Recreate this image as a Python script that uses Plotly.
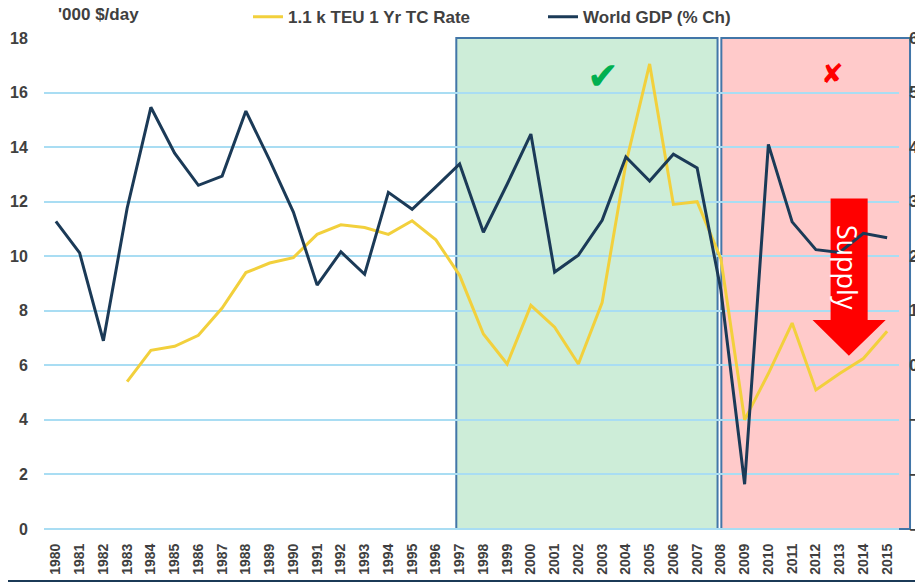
import plotly.graph_objects as go

years = list(range(1980, 2016))

tc_years = list(range(1983, 2016))
tc_rate = [5.4, 6.55, 6.7, 7.1, 8.1, 9.4, 9.75, 9.95, 10.8, 11.15, 11.05, 10.8, 11.3, 10.6,
           9.3, 7.15, 6.05, 8.2, 7.4, 6.05, 8.3, 13.4, 17.05, 11.9, 12.0, 9.9,
           4.0, 5.7, 7.55, 5.1, 5.7, 6.25, 7.25]

gdp = [2.64, 2.06, 0.45, 2.88, 4.73, 3.89, 3.3, 3.47, 4.66, 3.76, 2.81, 1.47, 2.08, 1.67,
       3.17, 2.86, 3.27, 3.69, 2.44, 3.32, 4.24, 1.71, 2.02, 2.66, 3.82, 3.38, 3.87, 3.62,
       1.38, -2.18, 4.05, 2.63, 2.12, 2.07, 2.42, 2.34]

left_ticks = list(range(0, 19, 2))
right_ticks = list(range(-3, 7))

TXT = "#404040"
GRID = "#A9DDF3"
BORDER = "#4276A8"

fig = go.Figure()
fig.add_trace(go.Scatter(x=tc_years, y=tc_rate, mode="lines", name="1.1 k TEU 1 Yr TC Rate",
                         line=dict(color="#F2D03C", width=3)))
fig.add_trace(go.Scatter(x=years, y=gdp, mode="lines", name="World GDP (% Ch)", yaxis="y2",
                         line=dict(color="#1B3A57", width=3)))

# plot area spans 1979.5..2015.5; pink box runs a little past its right edge
def xp(v):
    return (v - 1979.5) / 36.0

shapes = [
    dict(type="rect", xref="paper", yref="paper", x0=xp(1996.86), x1=xp(2007.86), y0=0, y1=1,
         fillcolor="#CDEDD8", line=dict(color=BORDER, width=2), layer="below"),
    dict(type="rect", xref="paper", yref="paper", x0=xp(2008.02), x1=1.0129, y0=0, y1=1,
         fillcolor="#FFCACA", line=dict(color=BORDER, width=2), layer="below"),
    dict(type="path", xref="x", yref="y",
         path="M 2012.62,12.12 L 2014.18,12.12 L 2014.18,7.66 L 2014.94,7.66 L 2013.39,6.35 "
              "L 2011.86,7.66 L 2012.62,7.66 Z",
         fillcolor="#FF0000", line=dict(width=0), layer="between"),
    dict(type="line", xref="paper", yref="paper", x0=-0.06, x1=1.1, y0=-0.106, y1=-0.106,
         line=dict(color="#1B3A57", width=2)),
]

annotations = [
    dict(text="'000 $/day", xref="paper", yref="paper", x=0.0139, y=1.047, xanchor="left",
         yanchor="middle", showarrow=False,
         font=dict(family="Arial", size=17, color=TXT, weight="bold")),
    dict(text="Supply", xref="x", yref="y", x=2013.33, y=9.6, textangle=90, showarrow=False,
         font=dict(family="Open Sans", size=27, color="white")),
    dict(text="✔", xref="x", yref="y", x=2003.05, y=16.6, showarrow=False,
         font=dict(family="DejaVu Sans", size=38, color="#00B050")),
    dict(text="✘", xref="x", yref="y", x=2012.7, y=16.7, showarrow=False,
         font=dict(family="DejaVu Sans", size=27, color="#FF0000")),
]

fig.update_layout(
    width=915, height=576,
    margin=dict(l=36, r=24, t=30, b=55, autoexpand=False),
    paper_bgcolor="white", plot_bgcolor="white",
    font=dict(family="Arial", color=TXT),
    showlegend=True,
    legend=dict(orientation="h", x=0.2386, y=0.984, xanchor="left", yanchor="middle",
                yref="container",
                font=dict(family="Arial", size=17, color=TXT, weight="bold"), entrywidth=250,
                entrywidthmode="pixels", bgcolor="rgba(0,0,0,0)"),
    xaxis=dict(range=[1979.5, 2015.5], tickmode="array", tickvals=years,
               ticktext=[str(y) for y in years], tickangle=-90, showgrid=False,
               zeroline=False, showline=False, automargin=False,
               tickfont=dict(family="Arial", size=14, color=TXT, weight="bold"),
               ticks="outside", ticklen=8, tickcolor="rgba(0,0,0,0)"),
    yaxis=dict(range=[0, 18], tickmode="array", tickvals=left_ticks, showgrid=True,
               gridcolor=GRID, gridwidth=1.5, zeroline=True, zerolinecolor=GRID,
               zerolinewidth=1.5, showline=False, automargin=False,
               tickfont=dict(family="Arial", size=16, color=TXT, weight="bold"),
               ticks="outside", ticklen=12, tickcolor="rgba(0,0,0,0)"),
    yaxis2=dict(range=[-3, 6], tickmode="array", tickvals=right_ticks, overlaying="y",
                side="right", showgrid=False, zeroline=False, showline=False,
                automargin=False, ticks="outside", ticklen=6,
                tickcolor="rgba(0,0,0,0)",
                tickfont=dict(family="Arial", size=16, color=TXT, weight="bold")),
    shapes=shapes,
    annotations=annotations,
)

fig.write_html("out.html")
